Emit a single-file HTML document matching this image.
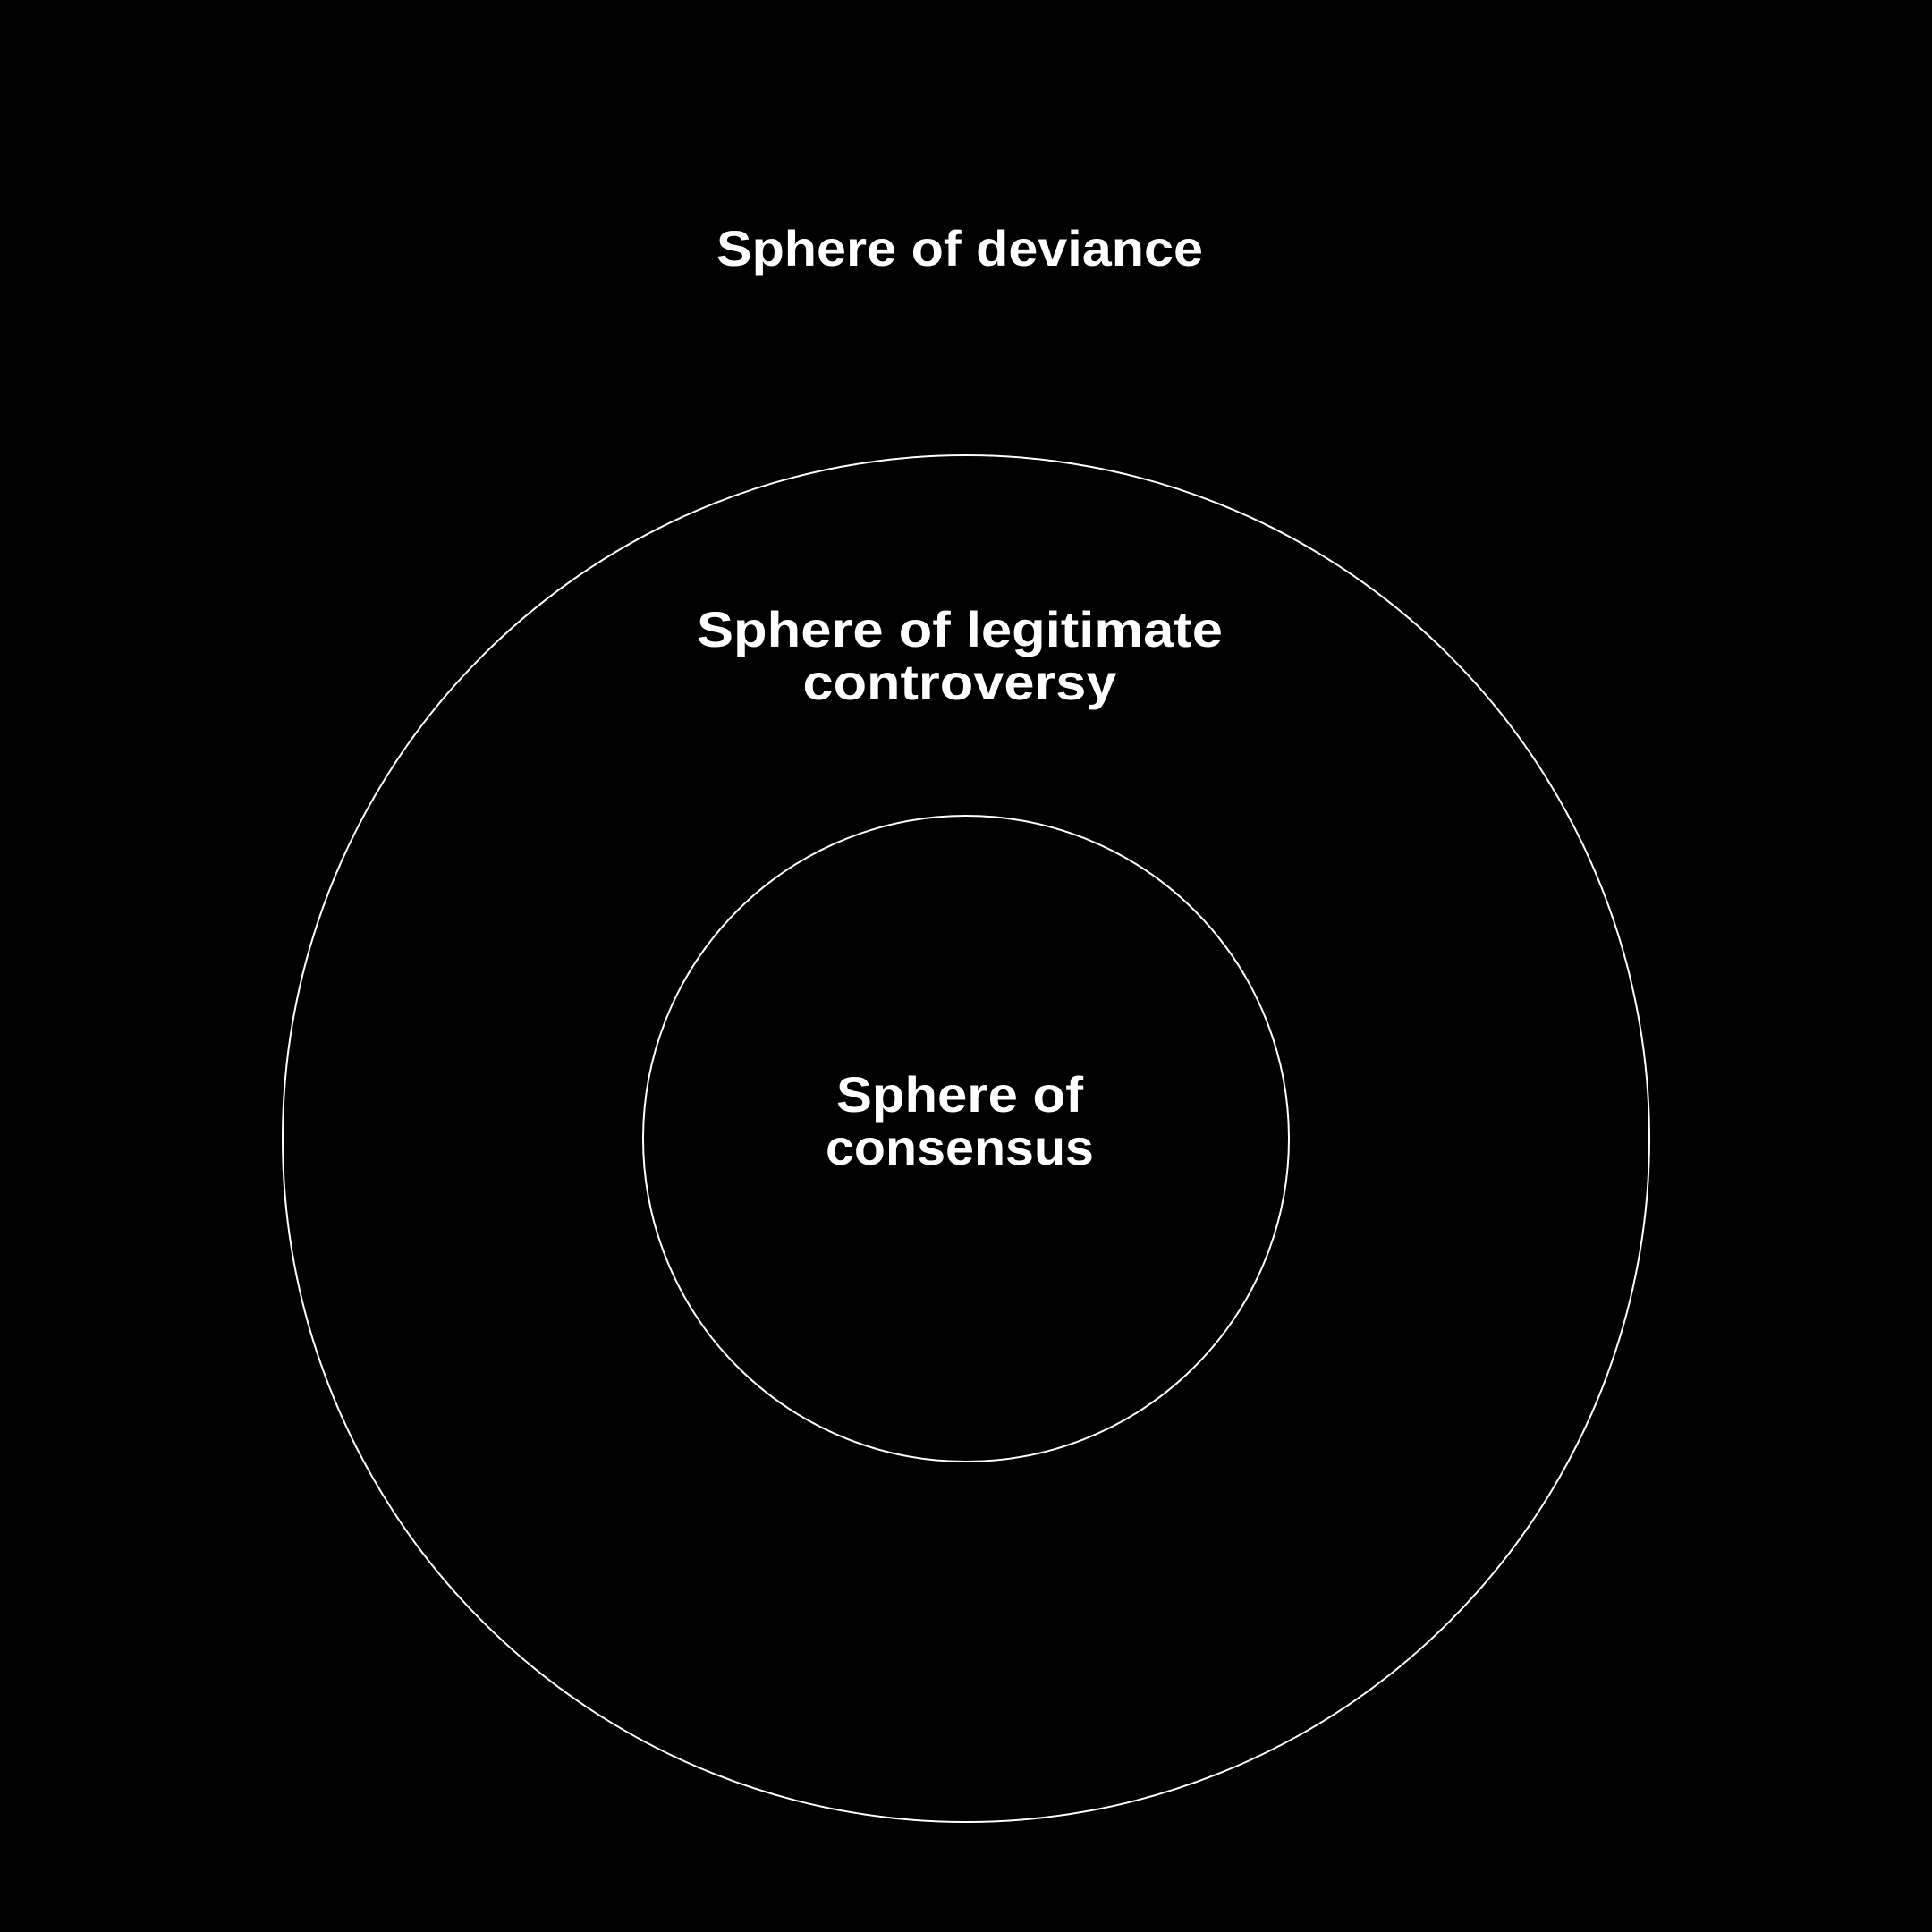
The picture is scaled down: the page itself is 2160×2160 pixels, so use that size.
<!DOCTYPE html>
<html><head><style>html,body{margin:0;padding:0;background:#000;}svg{display:block}</style></head>
<body>
<svg width="2160" height="2160" viewBox="0 0 2160 2160" xmlns="http://www.w3.org/2000/svg">
<rect width="2160" height="2160" fill="#000"/>
<circle cx="1080" cy="1273" r="764" fill="none" stroke="#fff" stroke-width="2"/>
<circle cx="1080" cy="1273" r="361" fill="none" stroke="#fff" stroke-width="2"/>
<g fill="#fff" font-family="Liberation Sans, sans-serif" font-weight="bold" font-size="56" text-anchor="middle">
<text x="1073" y="297" textLength="544" lengthAdjust="spacingAndGlyphs">Sphere of deviance</text>
<text x="1073" y="723" textLength="588" lengthAdjust="spacingAndGlyphs">Sphere of legitimate</text>
<text x="1073" y="782" textLength="351" lengthAdjust="spacingAndGlyphs">controversy</text>
<text x="1073" y="1243" textLength="276" lengthAdjust="spacingAndGlyphs">Sphere of</text>
<text x="1073" y="1302" textLength="300" lengthAdjust="spacingAndGlyphs">consensus</text>
</g>
</svg>
</body></html>
